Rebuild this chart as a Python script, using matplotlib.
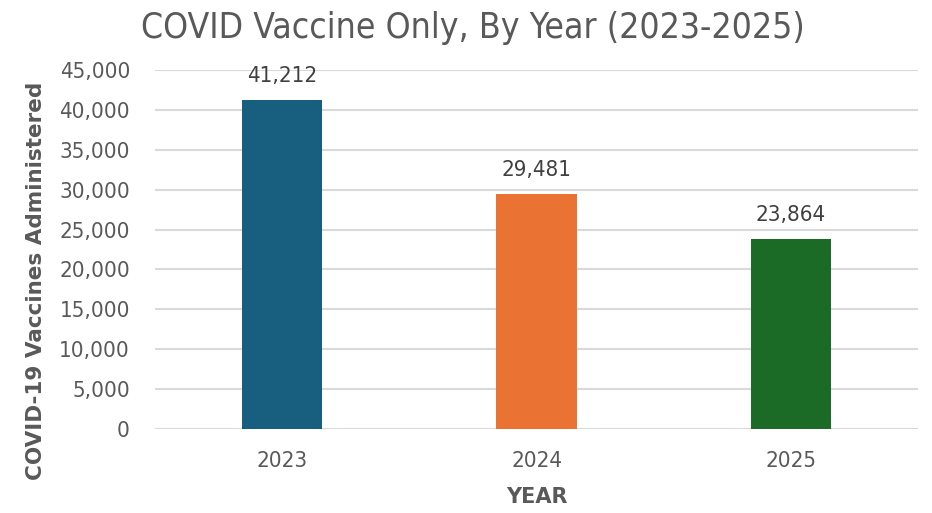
import matplotlib
matplotlib.use("Agg")
import matplotlib.pyplot as plt
from matplotlib import font_manager

years = ["2023", "2024", "2025"]
vaccines = [41212, 29481, 23864]
colors = ["#175E7F", "#EA7233", "#1B6B26"]
yticks = list(range(0, 45001, 5000))

# narrow upright face for most text, like the original chart
narrow = None
for f in font_manager.fontManager.ttflist:
    if f.style != "normal" or f.weight not in (400, "normal", "regular"):
        continue
    if "Narrow" in f.name or "Condensed" in f.name or f.stretch == "condensed":
        narrow = font_manager.FontProperties(fname=f.fname)
        break
if narrow is None:
    narrow = font_manager.FontProperties(family="Liberation Sans")

fig = plt.figure(figsize=(9.32, 5.13), dpi=100)
ax = fig.add_axes([0.1663, 0.1637, 0.8187, 0.6998])

x = range(len(years))
ax.bar(x, vaccines, width=0.315, color=colors, zorder=3)
for xi, v in zip(x, vaccines):
    ax.annotate(f"{v:,}", (xi, v), xytext=(0, 10), textcoords="offset points",
                ha="center", va="bottom", fontproperties=narrow, fontsize=16,
                color="#404040")

ax.set_xlim(-0.5, 2.5)
ax.set_ylim(0, 45000)
ax.set_yticks(yticks)
ax.set_yticklabels([f"{t:,}" for t in yticks], fontproperties=narrow, fontsize=16)
ax.set_xticks(list(x))
ax.set_xticklabels(years, fontproperties=narrow, fontsize=16)
ax.grid(axis="y", color="#D9D9D9", lw=1.5, zorder=0)
for s in ax.spines.values():
    s.set_visible(False)
ax.tick_params(axis="both", length=0, colors="#595959")
ax.tick_params(axis="y", pad=18)
ax.tick_params(axis="x", pad=16)

ax.set_xlabel("YEAR", fontsize=15, fontweight="bold", color="#595959",
              family="DejaVu Sans", labelpad=11)
fig.text(0.039, 0.452, "COVID-19 Vaccines Administered", rotation=90,
         ha="center", va="center", fontsize=15.5, fontweight="bold",
         color="#595959", family="DejaVu Sans")
fig.suptitle("COVID Vaccine Only, By Year (2023-2025)", x=0.507, y=0.978,
             fontproperties=narrow, fontsize=25.5, color="#595959")

fig.savefig("out.png", dpi=100)
